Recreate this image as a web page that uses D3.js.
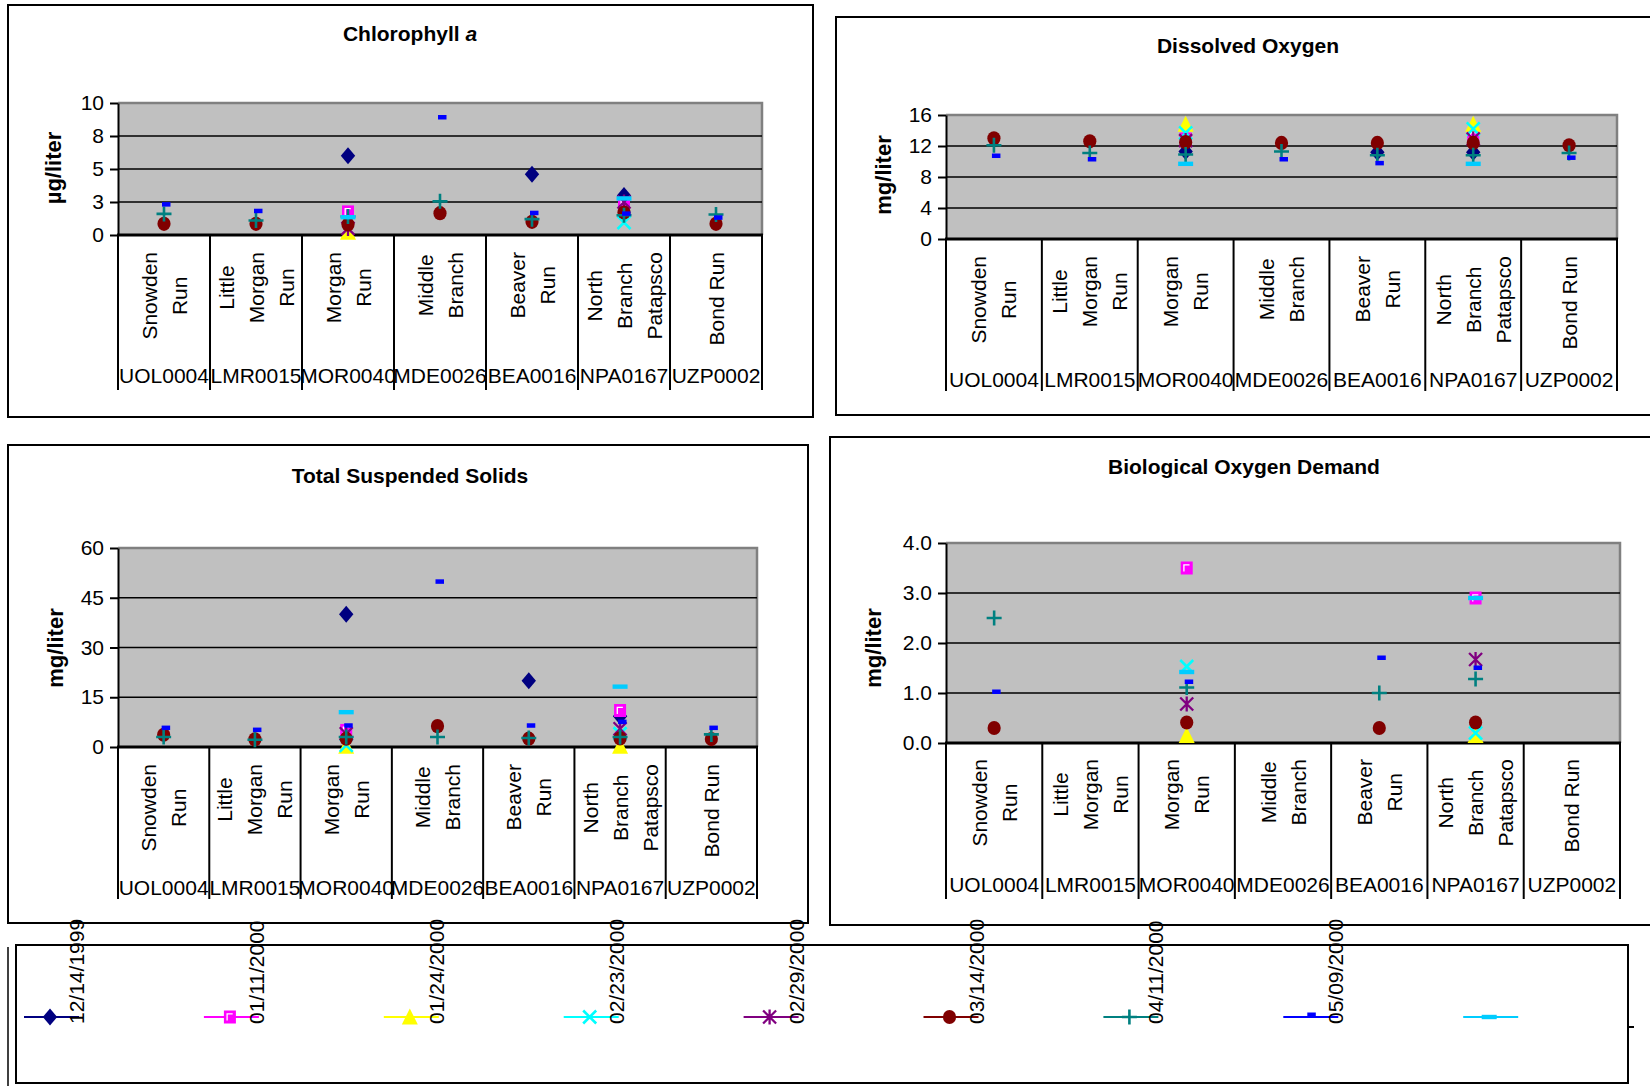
<!DOCTYPE html>
<html>
<head>
<meta charset="utf-8">
<script src="https://cdn.jsdelivr.net/npm/d3@7"></script>
<style>
  body { margin:0; background:#fff; }
  svg text { font-family:"Liberation Sans", Arial, sans-serif; }
</style>
</head>
<body>
<svg id="page" width="1650" height="1086"></svg>
<script>
// -----------------------------------------------------------------------------
// DATA
// -----------------------------------------------------------------------------
var stations = ['UOL0004','LMR0015','MOR0040','MDE0026','BEA0016','NPA0167','UZP0002'];
var streams  = [['Snowden','Run'],['Little','Morgan','Run'],['Morgan','Run'],
                ['Middle','Branch'],['Beaver','Run'],['North','Branch','Patapsco'],['Bond Run']];
var dates    = ['12/14/1999','01/11/2000','01/24/2000','02/23/2000','02/29/2000',
                '03/14/2000','04/11/2000','05/09/2000',null];
var colors   = ['#000080','#ff00ff','#ffff00','#00ffff','#800080','#800000','#008080','#0000ff','#00ccff'];
var shapes   = ['diamond','square','triangle','x','star','circle','plus','shortdash','longdash'];

// one row per sampling date, one value per station
var chla = [
  [null,null,6.0,null,4.6,3.0,null],
  [null,null,1.75,null,null,2.4,null],
  [null,null,0.2,null,null,null,null],
  [null,null,null,null,null,0.95,null],
  [null,null,0.5,null,null,2.5,null],
  [0.85,0.85,0.8,1.65,1.0,1.7,0.85],
  [1.6,1.1,1.4,2.55,1.2,1.5,1.55],
  [2.15,1.65,null,8.75,1.5,1.45,1.15],
  [null,null,1.35,null,null,2.77,null]
];
var dox = [
  [null,null,11.3,null,11.2,11.2,null],
  [null,null,12.9,null,null,13.3,null],
  [null,null,14.8,null,null,14.8,null],
  [null,null,13.7,null,null,14.2,null],
  [null,null,12.7,null,null,12.9,null],
  [13.0,12.6,12.5,12.4,12.4,12.4,12.1],
  [12.1,11.1,10.9,11.3,10.8,10.8,11.1],
  [10.45,10.0,null,10.0,9.5,null,10.2],
  [null,null,9.7,null,null,9.7,null]
];
var tss = [
  [null,null,40,null,20,9.3,null],
  [null,null,5.0,null,null,11,null],
  [null,null,0.2,null,null,0.2,null],
  [null,null,0.5,null,null,4,null],
  [null,null,4,null,null,5.5,null],
  [3.7,2.3,2.5,6.3,2.5,2.6,2.4],
  [3.0,2.2,3.0,3.0,2.7,3.0,3.8],
  [5.1,4.5,5.8,49.2,5.8,6.9,5.1],
  [null,null,10.5,null,null,18.2,null]
];
var bod = [
  [null,null,null,null,null,null,null],
  [null,null,3.5,null,null,2.9,null],
  [null,null,0.15,null,null,0.15,null],
  [null,null,1.53,null,null,0.2,null],
  [null,null,0.78,null,null,1.67,null],
  [0.3,null,0.41,null,0.3,0.41,null],
  [2.5,null,1.11,null,1.0,1.28,null],
  [0.98,null,1.18,null,1.66,1.46,null],
  [null,null,1.42,null,null,2.9,null]
];
var chlaTicks = [0,2.5,5,7.5,10];
var doxTicks  = [0,4,8,12,16];
var tssTicks  = [0,15,30,45,60];
var bodTicks  = [0,1,2,3,4];

// -----------------------------------------------------------------------------
// DRAWING
// -----------------------------------------------------------------------------
var svg = d3.select('#page');
svg.append('rect').attr('width',1650).attr('height',1086).attr('fill','#fff');

function gen_marker(g,shape,color,cx,cy){
  var m = g.append('g').attr('transform','translate('+cx+','+cy+')');
  if (shape=='diamond'){
    m.append('path').attr('d','M0,-8.5L7.2,0L0,8.5L-7.2,0Z').attr('fill',color);
  } else if (shape=='square'){
    m.append('rect').attr('x',-6).attr('y',-6.5).attr('width',12).attr('height',13).attr('fill',color);
    m.append('path').attr('d','M-2.8,3.5V-3.2H2.8').attr('fill','none').attr('stroke','#fff').attr('stroke-width',1.3);
  } else if (shape=='triangle'){
    m.append('path').attr('d','M0,-8.5L8,7.5L-8,7.5Z').attr('fill',color);
  } else if (shape=='x'){
    m.append('path').attr('d','M-6.5,-6.5L6.5,6.5M6.5,-6.5L-6.5,6.5').attr('stroke',color).attr('stroke-width',2.6);
  } else if (shape=='star'){
    m.append('path').attr('d','M-6.5,-6.5L6.5,6.5M6.5,-6.5L-6.5,6.5M0,-7.5V7.5').attr('stroke',color).attr('stroke-width',2.3);
  } else if (shape=='circle'){
    m.append('ellipse').attr('rx',6.6).attr('ry',7.1).attr('fill',color);
  } else if (shape=='plus'){
    m.append('path').attr('d','M-7.5,0H7.5M0,-7.5V7.5').attr('stroke',color).attr('stroke-width',2.6);
  } else if (shape=='shortdash'){
    m.append('rect').attr('x',-2).attr('y',-4.5).attr('width',8.5).attr('height',4.5).attr('fill',color);
  } else if (shape=='longdash'){
    m.append('rect').attr('x',-7.5).attr('y',-2.2).attr('width',15).attr('height',4.4).attr('fill',color);
  }
}

function gen_chart(c,data,ticks,fmt){
  var g = svg.append('g');
  // frame
  g.append('rect').attr('x',c.frame[0]).attr('y',c.frame[1])
    .attr('width',c.frame[2]-c.frame[0]).attr('height',c.frame[3]-c.frame[1])
    .attr('fill','#fff').attr('stroke','#000').attr('stroke-width',2);
  // title
  var t = g.append('text').attr('x',c.title[0]).attr('y',c.title[1])
    .attr('text-anchor','middle').style('font-size','21px').style('font-weight','bold');
  t.append('tspan').text(c.name);
  if (c.italic) t.append('tspan').style('font-style','italic').text(' '+c.italic);
  // y label
  g.append('text').attr('transform','translate('+(c.ylab[0]+6)+','+c.ylab[1]+') rotate(-90)')
    .attr('text-anchor','middle').style('font-size','22px').style('font-weight','bold').text(c.unit);

  var p = c.plot;
  var x = d3.scaleBand().domain(stations).range([p[0],p[2]]);
  var y = d3.scaleLinear().domain(d3.extent(ticks)).range([p[3],p[1]]);
  // plot area
  g.append('rect').attr('x',p[0]).attr('y',p[1]).attr('width',p[2]-p[0]).attr('height',p[3]-p[1])
    .attr('fill','#c0c0c0');
  g.append('path').attr('d','M'+p[0]+','+p[1]+'H'+p[2]+'V'+p[3])
    .attr('fill','none').attr('stroke','#808080').attr('stroke-width',2.5);
  g.append('g').selectAll('line').data(ticks.slice(1,-1)).enter().append('line')
    .attr('x1',p[0]).attr('x2',p[2]).attr('y1',d => y(d)).attr('y2',d => y(d))
    .attr('stroke','#000').attr('stroke-width',1.6);
  // y axis
  var ax = g.append('g').attr('transform','translate('+p[0]+',0)')
    .call(d3.axisLeft(y).tickValues(ticks).tickFormat(fmt).tickSize(8).tickSizeOuter(0).tickPadding(6));
  ax.select('.domain').attr('stroke','#000').attr('stroke-width',2);
  ax.selectAll('.tick line').attr('stroke','#000').attr('stroke-width',2);
  ax.selectAll('.tick text').attr('fill','#000').style('font-size','21px')
    .style('font-family','"Liberation Sans", Arial, sans-serif');
  // category separators
  var edges = stations.map(s => x(s)).concat([p[2]]);
  g.append('g').selectAll('line').data(edges).enter().append('line')
    .attr('x1',d => d).attr('x2',d => d).attr('y1',p[3]).attr('y2',c.sepBottom)
    .attr('stroke','#000').attr('stroke-width',2);
  g.append('line').attr('x1',p[0]-1).attr('x2',p[2]+1).attr('y1',p[3]).attr('y2',p[3])
    .attr('stroke','#000').attr('stroke-width',3);
  // category names, rotated, one column per word line, hung from catTop
  var bw = x.bandwidth();
  stations.forEach(function(s,i){
    var cx = x(s)+bw/2;
    var lines = streams[i];
    var t = g.append('text').attr('text-anchor','middle').style('font-size','21px');
    lines.forEach(function(l,j){
      t.append('tspan').attr('x',0).attr('y',(j-(lines.length-1)/2)*30+7.5).text(l);
    });
    var len = d3.max(t.selectAll('tspan').nodes(), n => n.getComputedTextLength());
    t.attr('transform','translate('+cx+','+(c.catTop+len/2)+') rotate(-90)');
    g.append('text').attr('x',cx).attr('y',c.station).attr('text-anchor','middle')
      .style('font-size','21px').text(s);
  });
  // markers
  data.forEach(function(row,si){
    row.forEach(function(v,i){
      if (v===null) return;
      gen_marker(g,shapes[si],colors[si],x(stations[i])+bw/2,y(v));
    });
  });
}

var f0 = d => Math.round(d).toString();
var f1 = d3.format('.1f');

gen_chart({frame:[8,5,813,417],plot:[118,103,762,235],title:[410,41],name:'Chlorophyll',italic:'a',
  ylab:[55,168],unit:'µg/liter',catTop:252,station:383,sepBottom:390},chla,chlaTicks,f0);
gen_chart({frame:[836,17,1680,415],plot:[946,115,1617,239],title:[1248,53],name:'Dissolved Oxygen',
  ylab:[885,175],unit:'mg/liter',catTop:256,station:387,sepBottom:391},dox,doxTicks,f0);
gen_chart({frame:[8,445,808,923],plot:[118,548,757,747],title:[410,483],name:'Total Suspended Solids',
  ylab:[57,648],unit:'mg/liter',catTop:764,station:895,sepBottom:899},tss,tssTicks,f0);
gen_chart({frame:[830,437,1680,925],plot:[946,543,1620,743],title:[1244,474],name:'Biological Oxygen Demand',
  ylab:[875,648],unit:'mg/liter',catTop:759,station:892,sepBottom:899},bod,bodTicks,f1);

// -----------------------------------------------------------------------------
// LEGEND
// -----------------------------------------------------------------------------
var leg = svg.append('g');
leg.append('line').attr('x1',8).attr('x2',8).attr('y1',947).attr('y2',1086).attr('stroke','#000').attr('stroke-width',1.5);
leg.append('rect').attr('x',16).attr('y',945).attr('width',1612).attr('height',138)
  .attr('fill','#fff').attr('stroke','#000').attr('stroke-width',2);
leg.append('line').attr('x1',1628).attr('x2',1634).attr('y1',1027).attr('y2',1027).attr('stroke','#000').attr('stroke-width',2);
var lx = d3.scalePoint().domain(d3.range(dates.length)).range([24,24+179.9*(dates.length-1)]);
dates.forEach(function(d,i){
  var x0 = lx(i), ly = 1017;
  leg.append('line').attr('x1',x0).attr('x2',x0+55).attr('y1',ly).attr('y2',ly)
    .attr('stroke',colors[i]).attr('stroke-width',2.2);
  gen_marker(leg,shapes[i],colors[i],x0+26,ly);
  if (d) leg.append('text').attr('transform','translate('+(x0+60)+',1024) rotate(-90)')
    .style('font-size','21px').text(d);
});
</script>
</body>
</html>
